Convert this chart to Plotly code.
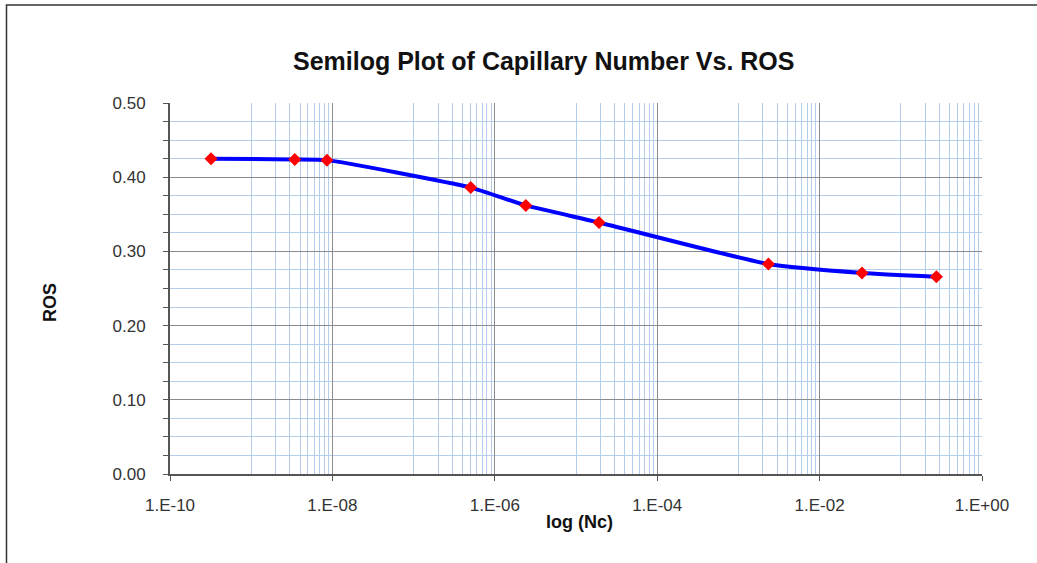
import plotly.graph_objects as go

# Capillary number (Nc) and residual oil saturation (ROS)
capillary_number = [3.2e-10, 3.44e-9, 8.57e-9, 5.05e-7, 2.41e-6, 1.92e-5, 2.34e-3, 3.33e-2, 2.74e-1]
ros = [0.425, 0.424, 0.423, 0.386, 0.362, 0.339, 0.283, 0.271, 0.266]

x_tick_vals = [1e-10, 1e-8, 1e-6, 1e-4, 1e-2, 1e0]
x_tick_text = ["1.E-10", "1.E-08", "1.E-06", "1.E-04", "1.E-02", "1.E+00"]
# base-100 log axis: minor lines at 1..9 x 10^odd exponent
x_minor_vals = [k * 10.0 ** e for e in (-9, -7, -5, -3, -1) for k in range(1, 10)]

W, H = 1037, 563
L, R, T, B = 170, 55, 103, 89
pw, ph = W - L - R, H - T - B

def px(x):
    return (x - L) / pw

def py(y):
    return (H - B - y) / ph

MAJOR = "#8c8c8c"
MINOR = "#b3cdeb"
FONT = "Liberation Sans, Arial, sans-serif"
TICKFONT = dict(family=FONT, size=17, color="#333333")

fig = go.Figure()
fig.add_trace(go.Scatter(
    x=capillary_number, y=ros,
    mode="lines+markers",
    line=dict(color="#0000ff", width=4, shape="spline", smoothing=0.5),
    marker=dict(symbol="diamond", size=10, color="#ff0000"),
    showlegend=False,
))

fig.update_layout(
    width=W, height=H,
    margin=dict(l=L, r=R, t=T, b=B),
    paper_bgcolor="white",
    plot_bgcolor="white",
    font=dict(family=FONT, color="#333333", size=17),
    xaxis=dict(
        type="log", range=[-10, 0],
        tickmode="array", tickvals=x_tick_vals, ticktext=x_tick_text,
        tickfont=TICKFONT,
        showgrid=True, gridcolor=MAJOR, gridwidth=1,
        ticks="outside", ticklen=5, tickcolor="#555555",
        ticklabelstandoff=10,
        showline=True, linecolor="#555555", linewidth=2,
        zeroline=False,
        minor=dict(tickvals=x_minor_vals, showgrid=True, gridcolor=MINOR, gridwidth=1, ticks=""),
    ),
    yaxis=dict(
        range=[0, 0.5], dtick=0.1, tickformat=".2f",
        tickfont=TICKFONT,
        showgrid=True, gridcolor=MAJOR, gridwidth=1,
        ticks="outside", ticklen=5, tickcolor="#555555",
        ticklabelstandoff=14,
        showline=True, linecolor="#555555", linewidth=2,
        zeroline=False,
        minor=dict(dtick=0.025, showgrid=True, gridcolor=MINOR, gridwidth=1,
                   ticks="outside", ticklen=5, tickcolor="#555555"),
    ),
    annotations=[
        dict(text="<b>Semilog Plot of Capillary Number Vs. ROS</b>", xref="paper", yref="paper",
             x=px(544), y=py(61), xanchor="center", yanchor="middle", showarrow=False,
             font=dict(family=FONT, size=25, color="#111111")),
        dict(text="<b>log (Nc)</b>", xref="paper", yref="paper",
             x=px(579), y=py(522), xanchor="center", yanchor="middle", showarrow=False,
             font=dict(family=FONT, size=18, color="#111111")),
        dict(text="<b>ROS</b>", xref="paper", yref="paper", textangle=-90,
             x=px(50), y=py(302), xanchor="center", yanchor="middle", showarrow=False,
             font=dict(family=FONT, size=18, color="#111111")),
    ],
    shapes=[
        # chart frame
        dict(type="rect", xref="paper", yref="paper",
             x0=px(6.5), y0=py(600), x1=px(1080), y1=py(5),
             line=dict(color="#333333", width=1.5), fillcolor="rgba(0,0,0,0)", layer="below"),
    ],
)

fig.write_html("out.html")
